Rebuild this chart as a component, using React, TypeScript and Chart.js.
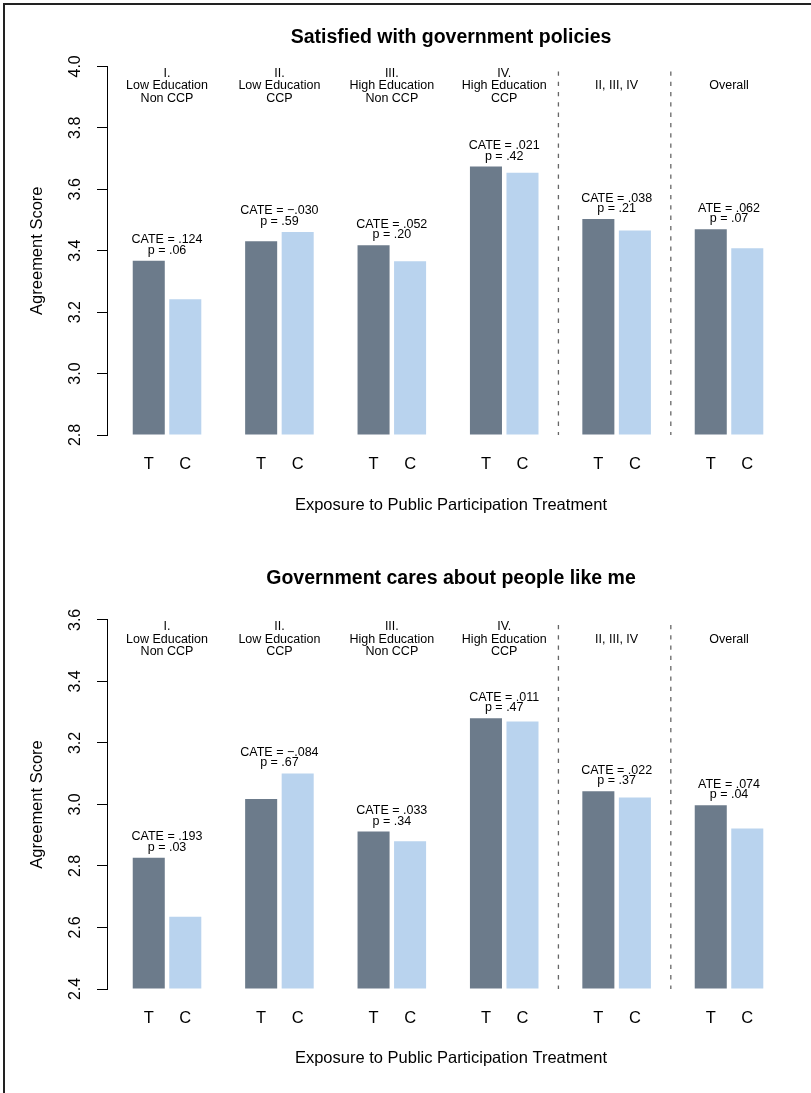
import React, { useEffect, useRef } from "react";
import { Chart, registerables } from "chart.js";

Chart.register(...registerables);

// ---------- data ----------
const groupHeaders: string[][] = [
  ["I.", "Low Education", "Non CCP"],
  ["II.", "Low Education", "CCP"],
  ["III.", "High Education", "Non CCP"],
  ["IV.", "High Education", "CCP"],
  ["", "II, III, IV", ""],
  ["", "Overall", ""],
];
const armLabels = ["T", "C"];
const yAxisTitle = "Agreement Score";
const xAxisTitle = "Exposure to Public Participation Treatment";

const policyTitle = "Satisfied with government policies";
const policyTreatment = [3.367, 3.431, 3.418, 3.674, 3.503, 3.47];
const policyControl = [3.242, 3.461, 3.366, 3.654, 3.466, 3.408];
const policyEffects = ["CATE = .124", "CATE = \u2212.030", "CATE = .052", "CATE = .021", "CATE = .038", "ATE = .062"];
const policyPValues = ["p = .06", "p = .59", "p = .20", "p = .42", "p = .21", "p = .07"];
const policyTicks = [2.8, 3.0, 3.2, 3.4, 3.6, 3.8, 4.0];

const caresTitle = "Government cares about people like me";
const caresTreatment = [2.827, 3.018, 2.912, 3.28, 3.043, 2.997];
const caresControl = [2.635, 3.101, 2.88, 3.27, 3.023, 2.922];
const caresEffects = ["CATE = .193", "CATE = \u2212.084", "CATE = .033", "CATE = .011", "CATE = .022", "ATE = .074"];
const caresPValues = ["p = .03", "p = .67", "p = .34", "p = .47", "p = .37", "p = .04"];
const caresTicks = [2.4, 2.6, 2.8, 3.0, 3.2, 3.4, 3.6];

// separators are drawn after these group indices (0-based)
const separatorAfter = [3, 4];

// ---------- styling ----------
const FAMILY = '"Liberation Sans", Arial, Helvetica, sans-serif';
const T_COLOR = "#6C7B8B";
const C_COLOR = "#B9D3EE";
const CANVAS_W = 811;

const annotatePlugin = {
  id: "annotate",
  afterDatasetsDraw(chart: any, _args: any, opts: any) {
    const { ctx, chartArea } = chart;
    const m0 = chart.getDatasetMeta(0);
    const m1 = chart.getDatasetMeta(1);
    ctx.save();

    // dashed separators
    ctx.strokeStyle = "#666";
    ctx.lineWidth = 1.3;
    ctx.setLineDash([4.3, 6]);
    ctx.lineDashOffset = 5.3;
    for (const g of separatorAfter) {
      const left = m1.data[g];
      const right = m0.data[g + 1];
      const x = (left.x + left.width / 2 + right.x - right.width / 2) / 2 - 2;
      ctx.beginPath();
      ctx.moveTo(x, chartArea.top);
      ctx.lineTo(x, chartArea.bottom);
      ctx.stroke();
    }
    ctx.setLineDash([]);

    // group headers
    ctx.fillStyle = "#000";
    ctx.textAlign = "center";
    ctx.textBaseline = "alphabetic";
    ctx.font = `12.5px ${FAMILY}`;
    groupHeaders.forEach((lines, i) => {
      const x = (m0.data[i].x + m1.data[i].x) / 2;
      lines.forEach((t, j) => {
        if (t) ctx.fillText(t, x, chartArea.top + 10.5 + j * 12.4);
      });
    });

    // effect annotations
    opts.effects.forEach((t: string, i: number) => {
      const x = (m0.data[i].x + m1.data[i].x) / 2;
      const top = Math.min(m0.data[i].y, m1.data[i].y);
      ctx.fillText(opts.pvalues[i], x, top - 7);
      ctx.fillText(t, x, top - 17.5);
    });

    // T / C labels
    ctx.font = `16.5px ${FAMILY}`;
    ctx.textBaseline = "middle";
    [m0, m1].forEach((m: any, di: number) => {
      m.data.forEach((el: any) => ctx.fillText(armLabels[di], el.x, chartArea.bottom + 29));
    });
    ctx.restore();
  },
};

type PanelProps = {
  top: number;
  height: number;
  title: string;
  treatment: number[];
  control: number[];
  effects: string[];
  pvalues: string[];
  ticks: number[];
  titlePad: { top: number; bottom: number };
  xAxisHeight: number;
  xTitlePadBottom: number;
};

function Panel(p: PanelProps) {
  const ref = useRef<HTMLCanvasElement>(null);
  useEffect(() => {
    if (!ref.current) return;
    const yMin = p.ticks[0];
    const yMax = p.ticks[p.ticks.length - 1];
    const chart = new Chart(ref.current, {
      type: "bar",
      data: {
        datasets: [
          {
            label: armLabels[0],
            data: p.treatment.map((v, i) => ({ x: i + 1, y: v })),
            backgroundColor: T_COLOR,
            borderWidth: 0,
            base: yMin,
          } as any,
          {
            label: armLabels[1],
            data: p.control.map((v, i) => ({ x: i + 1, y: v })),
            backgroundColor: C_COLOR,
            borderWidth: 0,
            base: yMin,
          } as any,
        ],
      },
      options: {
        responsive: false,
        animation: false,
        devicePixelRatio: 1,
        events: [],
        layout: { padding: { left: 0, right: CANVAS_W - 795, top: 0, bottom: 0 } },
        datasets: {
          bar: { categoryPercentage: 0.65, barPercentage: 0.877, grouped: true },
        },
        scales: {
          x: {
            type: "linear",
            offset: false,
            min: 0.466,
            max: 6.587,
            afterBuildTicks: (s: any) => {
              s.ticks = p.treatment.map((_, i) => ({ value: i + 1 }));
            },
            afterFit: (s: any) => {
              s.height = p.xAxisHeight;
            },
            ticks: { display: false },
            grid: { display: false },
            border: { display: false },
            title: {
              display: true,
              text: xAxisTitle,
              color: "#000",
              font: { family: FAMILY, size: 16.5, lineHeight: 1.2 },
              padding: { top: 0, bottom: p.xTitlePadBottom },
            },
          },
          y: {
            type: "linear",
            min: yMin,
            max: yMax,
            afterBuildTicks: (s: any) => {
              s.ticks = p.ticks.map((v) => ({ value: v }));
            },
            afterFit: (s: any) => {
              s.width = 107;
            },
            ticks: {
              callback: (v: any) => Number(v).toFixed(1),
              color: "#000",
              font: { family: FAMILY, size: 16 },
              minRotation: 90,
              maxRotation: 90,
              crossAlign: "center",
              padding: 10,
            },
            grid: {
              display: true,
              drawOnChartArea: false,
              drawTicks: true,
              tickLength: 10,
              color: "#000",
              tickColor: "#000",
              lineWidth: 1,
            },
            border: { display: true, color: "#000", width: 1 },
            title: {
              display: true,
              text: yAxisTitle,
              color: "#000",
              font: { family: FAMILY, size: 16.5, lineHeight: 1.2 },
              padding: { top: 28, bottom: 0 },
            },
          },
        },
        plugins: {
          legend: { display: false },
          tooltip: { enabled: false },
          title: {
            display: true,
            fullSize: false,
            text: p.title,
            color: "#000",
            font: { family: FAMILY, size: 19.5, weight: "bold", lineHeight: 1.2 },
            padding: p.titlePad,
          },
          annotate: { effects: p.effects, pvalues: p.pvalues },
        } as any,
      },
      plugins: [annotatePlugin],
    } as any);
    return () => chart.destroy();
  }, []);
  return (
    <canvas
      ref={ref}
      width={CANVAS_W}
      height={p.height}
      style={{ position: "absolute", left: 0, top: p.top, width: CANVAS_W, height: p.height }}
    />
  );
}

export default function App() {
  return (
    <div
      style={{
        position: "absolute",
        left: 0,
        top: 0,
        width: 811,
        height: 1093,
        overflow: "hidden",
        background: "#fff",
      }}
    >
      <Panel
        top={0}
        height={546}
        title={policyTitle}
        treatment={policyTreatment}
        control={policyControl}
        effects={policyEffects}
        pvalues={policyPValues}
        ticks={policyTicks}
        titlePad={{ top: 26, bottom: 17 }}
        xAxisHeight={111}
        xTitlePadBottom={31}
      />
      <Panel
        top={546}
        height={547}
        title={caresTitle}
        treatment={caresTreatment}
        control={caresControl}
        effects={caresEffects}
        pvalues={caresPValues}
        ticks={caresTicks}
        titlePad={{ top: 21, bottom: 29.5 }}
        xAxisHeight={104}
        xTitlePadBottom={25}
      />
      <div
        style={{
          position: "absolute",
          left: 3,
          top: 3,
          width: 900,
          height: 1200,
          borderTop: "2px solid #222",
          borderLeft: "2px solid #222",
          pointerEvents: "none",
        }}
      />
    </div>
  );
}
